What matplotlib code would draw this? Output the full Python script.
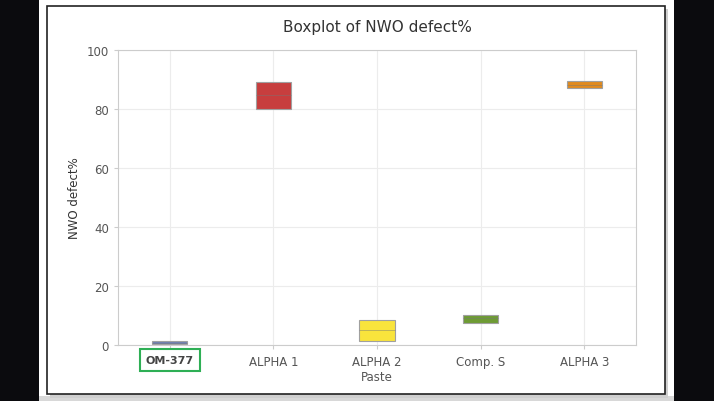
import matplotlib.pyplot as plt
from matplotlib.patches import Rectangle

# Box statistics
categories = ["OM-377", "ALPHA 1", "ALPHA 2\nPaste", "Comp. S", "ALPHA 3"]
q1_values = [0.2, 80.0, 1.4, 7.5, 87.1]
median_values = [0.7, 84.7, 5.1, 9.0, 88.3]
q3_values = [1.3, 89.2, 8.6, 10.3, 89.6]
box_colors = ["#6f80b3", "#c73e3e", "#f9e43c", "#6e9b34", "#e08a1e"]
y_ticks = [0, 20, 40, 60, 80, 100]

fig = plt.figure(figsize=(7.14, 4.02), dpi=100)
fig.patch.set_facecolor("white")

# black side bands and the framed panel
fig.patches.append(Rectangle((0, 0), 39 / 714, 1, transform=fig.transFigure,
                             facecolor="#0b0b0e", edgecolor="none", zorder=-3))
fig.patches.append(Rectangle((674 / 714, 0), 40 / 714, 1, transform=fig.transFigure,
                             facecolor="#0b0b0e", edgecolor="none", zorder=-3))
fig.patches.append(Rectangle((39 / 714, 0), 635 / 714, 5 / 402, transform=fig.transFigure,
                             facecolor="#d8d8d8", edgecolor="none", zorder=-3))
fig.patches.append(Rectangle((50 / 714, 3 / 402), 618 / 714, 389 / 402, transform=fig.transFigure,
                             facecolor="#cfcfcf", edgecolor="none", zorder=-2))
fig.patches.append(Rectangle((47 / 714, 7 / 402), 618 / 714, 388 / 402, transform=fig.transFigure,
                             facecolor="white", edgecolor="#222222", linewidth=1.2, zorder=-1))

ax = fig.add_axes([118 / 714, 56 / 402, 518 / 714, 295 / 402])

stats = []
for label, lo, med, hi in zip(categories, q1_values, median_values, q3_values):
    stats.append({"label": label, "q1": lo, "med": med, "q3": hi,
                  "whislo": lo, "whishi": hi, "fliers": []})

bp = ax.bxp(stats, positions=range(len(categories)), widths=0.34, patch_artist=True,
            showcaps=False,
            medianprops=dict(color="#777777", linewidth=0.7, alpha=0.45),
            whiskerprops=dict(linewidth=0))
for patch, color in zip(bp["boxes"], box_colors):
    patch.set_facecolor(color)
    patch.set_edgecolor("#a0a0a0")
    patch.set_linewidth(0.8)

ax.set_xlim(-0.5, len(categories) - 0.5)
ax.set_ylim(0, 100)
ax.set_yticks(y_ticks)
ax.set_xticks(range(len(categories)))
ax.set_xticklabels(categories, fontsize=8.5, color="#555555", linespacing=1.2)
ax.tick_params(axis="y", labelsize=8.5, labelcolor="#555555", color="#cccccc", length=3)
ax.tick_params(axis="x", color="#cccccc", length=3, pad=4)
ax.grid(True, color="#ececec", linewidth=0.8)
ax.set_axisbelow(True)
for spine in ax.spines.values():
    spine.set_color("#cccccc")

ax.set_ylabel("NWO defect%", fontsize=8.5, color="#333333", labelpad=4)
ax.set_title("Boxplot of NWO defect%", fontsize=11, color="#333333", pad=14)

# highlight first category label
first = ax.get_xticklabels()[0]
first.set_color("#444444")
first.set_fontweight("bold")
first.set_fontsize(8)
first.set_bbox(dict(facecolor="white", edgecolor="#2eaf55", linewidth=1.5,
                    boxstyle="square,pad=0.55"))
first.set_x(-0.03)

fig.savefig("out.png", dpi=100)
